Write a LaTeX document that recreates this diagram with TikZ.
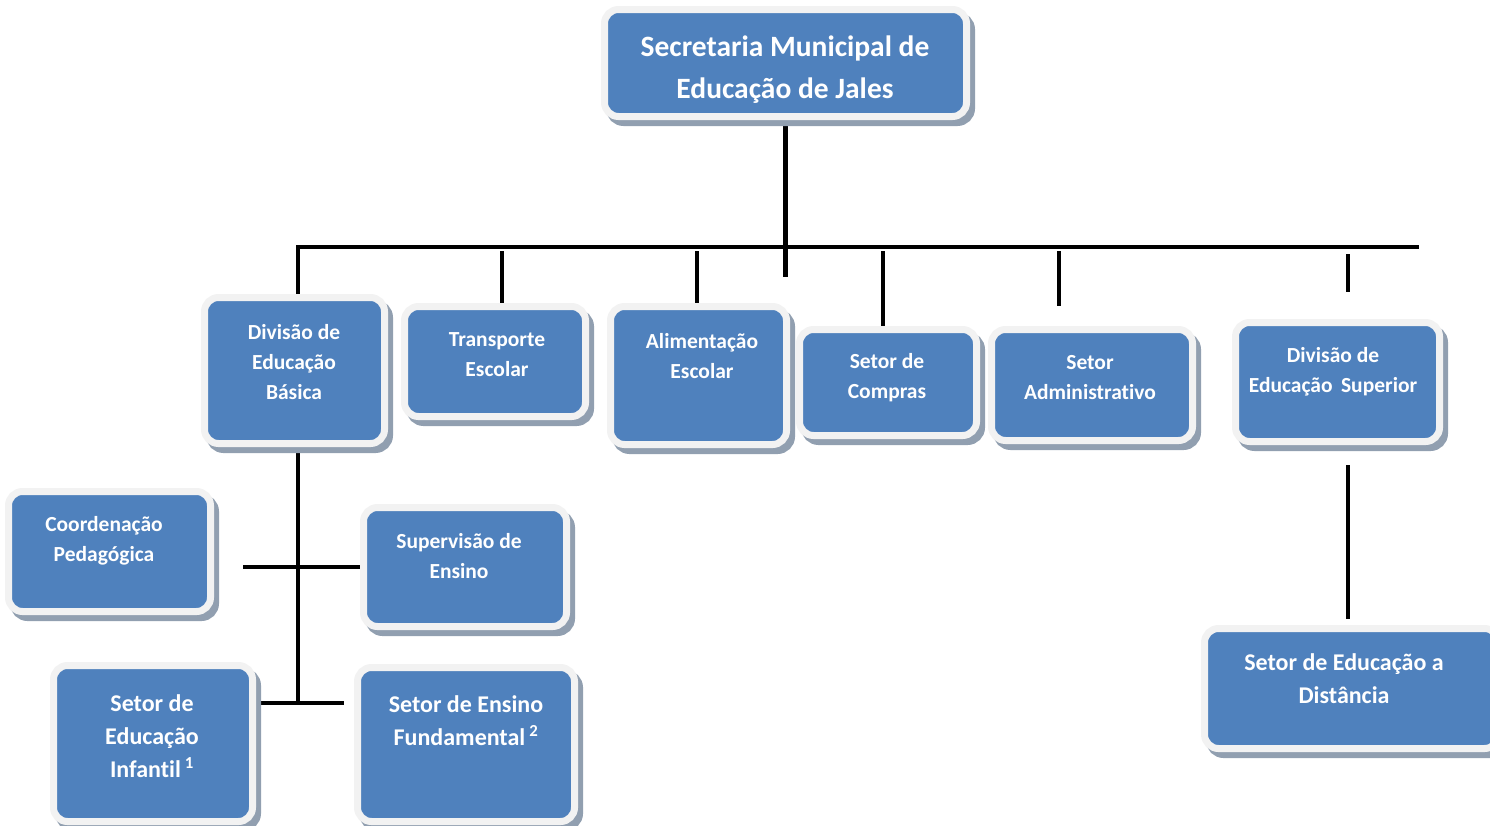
\documentclass[tikz,border=0pt]{standalone}
\usepackage{fontspec}
\setmainfont{Carlito}[Ligatures=NoCommon]
\usetikzlibrary{calc,backgrounds}
\definecolor{boxblue}{HTML}{4F81BD}
\definecolor{boxborder}{HTML}{F2F2F2}
\definecolor{shadowc}{HTML}{919FB0}
\tikzset{
  orgbox/.style={rectangle, rounded corners=14pt, fill=boxblue, draw=boxborder, line width=7pt,
    inner sep=0pt,
    preaction={draw=shadowc, fill=shadowc, line width=7pt, transform canvas={shift={(5pt,-6pt)}}}},
  big/.style={font=\bfseries\fontsize{29.5}{42}\selectfont},
  mid/.style={font=\bfseries\fontsize{24}{33}\selectfont},
  small/.style={font=\bfseries\fontsize{21.5}{30}\selectfont},
  lbl/.style={text=white, align=center, inner sep=0pt},
  conn/.style={draw=black, line width=4.5pt, line cap=butt, line join=miter}
}
\begin{document}
\begin{tikzpicture}[x=1pt,y=-1pt]
\useasboundingbox (0,0) rectangle (1490,825);
% boxes
\node[orgbox, minimum width=362pt, minimum height=107pt] (top) at (785.5,63) {};
\node[orgbox, minimum width=180pt, minimum height=146pt] (divb) at (294.5,370.5) {};
\node[orgbox, minimum width=181pt, minimum height=110pt] (transp) at (495,361.5) {};
\node[orgbox, minimum width=176pt, minimum height=138pt] (alim) at (698.5,375.5) {};
\node[orgbox, minimum width=177pt, minimum height=106pt] (compras) at (888,382.5) {};
\node[orgbox, minimum width=201pt, minimum height=111pt] (adm) at (1092,385) {};
\node[orgbox, minimum width=204pt, minimum height=119pt] (divs) at (1337.5,382) {};
\node[orgbox, minimum width=202pt, minimum height=120pt] (coord) at (109.5,551.5) {};
\node[orgbox, minimum width=203pt, minimum height=119pt] (superv) at (465,567) {};
\node[orgbox, minimum width=199pt, minimum height=156pt] (infantil) at (153,743.5) {};
\node[orgbox, minimum width=217pt, minimum height=154pt] (fund) at (466,744.5) {};
\node[orgbox, minimum width=294pt, minimum height=120pt] (ead) at (1351.5,688.5) {};

% labels
\node[lbl,big] (top-t) at (785,70) {Secretaria Municipal de\\Educação de Jales};
\node[lbl,small] (divb-t) at (294,362) {Divisão de\\Educação\\Básica};
\node[lbl,small] (transp-t) at (497,354.5) {Transporte\\Escolar};
\node[lbl,small] (alim-t) at (702,356) {Alimentação\\Escolar};
\node[lbl,small] (compras-t) at (887,377.5) {Setor de\\Compras};
\node[lbl,small] (adm-t) at (1090,377.5) {Setor\\Administrativo};
\node[lbl,small] (divs-t) at (1333,371.5) {Divisão de\\Educação\, Superior};
\node[lbl,small] (coord-t) at (104,540.5) {Coordenação\\Pedagógica};
\node[lbl,small] (superv-t) at (459,556.5) {Supervisão de\\Ensino};
\node[lbl,mid] (infantil-t) at (152,736) {Setor de\\Educação\\Infantil\,\textsuperscript{1}};
\node[lbl,mid] (fund-t) at (466,720.5) {Setor de Ensino\\Fundamental\,\textsuperscript{2}};
\node[lbl,mid] (ead-t) at (1344,679) {Setor de Educação a\\Distância};

% connectors (behind the boxes)
\begin{scope}[on background layer]
\coordinate (bl) at (298,247);
\coordinate (br) at (1419,247);
\coordinate (d2) at (502,251);
\coordinate (d3) at (697,251);
\coordinate (d4) at (883,251);
\coordinate (d5) at (1059,251);
\coordinate (d6) at (1348,254);
\coordinate (j1) at (298,567);
\coordinate (j2) at (298,703);
\draw[conn] (top.south) -- ++(0,157);
\draw[conn] (bl |- divb.north) -- (bl) -- (br);
\draw[conn] (d2) -- (d2 |- transp.north);
\draw[conn] (d3) -- (d3 |- alim.north);
\draw[conn] (d4) -- (d4 |- compras.north);
\draw[conn] (d5) -- ($(d5 |- adm.north)+(0,-20)$);
\draw[conn] (d6) -- ($(d6 |- divs.north)+(0,-27)$);
\draw[conn] ($(d6 |- divs.south)+(0,20)$) -- ($(d6 |- ead.north)+(0,-6)$);
\draw[conn] (bl |- divb.south) -- (j2);
\draw[conn] ($(j1 -| coord.east)+(29,0)$) -- (j1 -| superv.west);
\draw[conn] (j2 -| infantil.east) -- ($(j2 -| fund.west)+(-10,0)$);
\end{scope}
\end{tikzpicture}
\end{document}
